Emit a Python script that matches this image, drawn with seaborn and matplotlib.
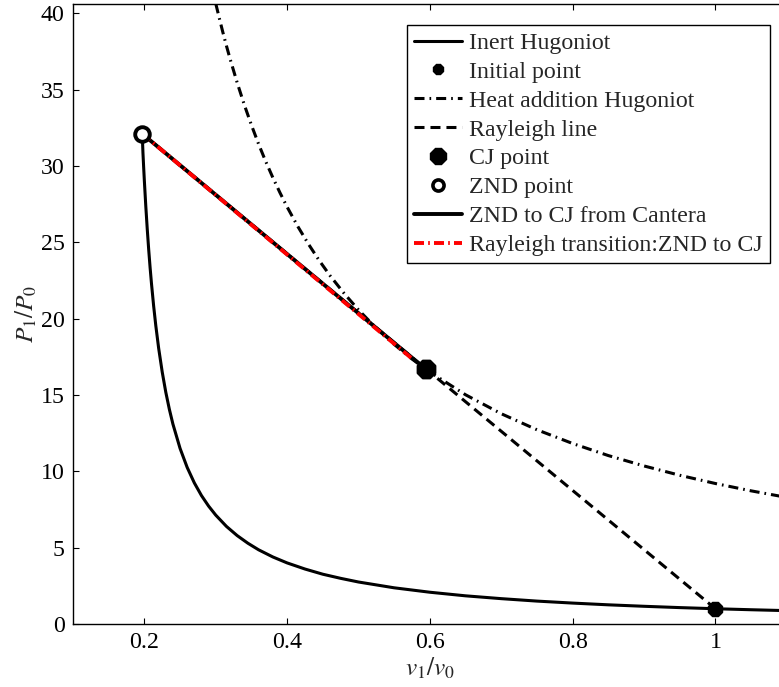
import matplotlib
matplotlib.use("Agg")
import matplotlib.pyplot as plt
from matplotlib.lines import Line2D
import seaborn as sns
import numpy as np
import pandas as pd

# ---------------- data ----------------
inert_v = [0.197, 0.198, 0.199, 0.200, 0.202, 0.204, 0.206, 0.208, 0.21, 0.213,
           0.216, 0.22, 0.225, 0.23, 0.235, 0.24, 0.25, 0.26, 0.27, 0.28, 0.29,
           0.30, 0.315, 0.33, 0.345, 0.36, 0.38, 0.40, 0.425, 0.45, 0.475, 0.50,
           0.55, 0.60, 0.65, 0.70, 0.75, 0.80, 0.85, 0.90, 0.95, 1.00, 1.05, 1.10]
inert_p = [32.1, 30.86, 29.9, 29.0, 27.35, 25.88, 24.55, 23.35, 22.27, 20.82,
           19.54, 18.06, 16.5, 15.18, 14.06, 13.09, 11.5, 10.25, 9.24, 8.41, 7.72,
           7.13, 6.39, 5.79, 5.29, 4.86, 4.39, 4.00, 3.60, 3.26, 2.99, 2.75,
           2.37, 2.08, 1.845, 1.66, 1.50, 1.37, 1.256, 1.16, 1.074, 1.00, 0.934, 0.875]

heat_v = [0.30, 0.305, 0.31, 0.315, 0.32, 0.33, 0.34, 0.35, 0.36, 0.37, 0.38, 0.39,
          0.40, 0.415, 0.43, 0.445, 0.46, 0.48, 0.50, 0.525, 0.55, 0.575, 0.60,
          0.65, 0.70, 0.75, 0.80, 0.85, 0.90, 0.95, 1.00, 1.05, 1.10]
heat_p = [40.63, 39.67, 38.74, 37.86, 37.02, 35.45, 34.0, 32.67, 31.43, 30.29, 29.23,
          28.24, 27.31, 26.03, 24.87, 23.8, 22.82, 21.64, 20.57, 19.37, 18.31, 17.35,
          16.50, 15.01, 13.77, 12.72, 11.82, 11.03, 10.35, 9.74, 9.20, 8.72, 8.29]

rayleigh_v = [0.197, 1.0]
rayleigh_p = [32.1, 1.0]

cantera_v = [0.197, 0.594]
cantera_p = [32.1, 16.7]

transition_v = [0.197, 0.577]
transition_p = [32.1, 17.3]

initial_v, initial_p = [1.0], [1.0]
cj_v, cj_p = [0.594], [16.7]
znd_v, znd_p = [0.197], [32.1]

legend_labels = ["Inert Hugoniot", "Initial point", "Heat addition Hugoniot",
                 "Rayleigh line", "CJ point", "ZND point",
                 "ZND to CJ from Cantera", "Rayleigh transition:ZND to CJ"]

x_ticks = [0.2, 0.4, 0.6, 0.8, 1.0]
x_tick_labels = ["0.2", "0.4", "0.6", "0.8", "1"]
y_ticks = [0, 5, 10, 15, 20, 25, 30, 35, 40]

# ---------------- style ----------------
sns.set_style("ticks")
plt.rcParams["font.family"] = ["Liberation Serif", "DejaVu Serif"]
plt.rcParams["mathtext.fontset"] = "stix"
plt.rcParams["lines.scale_dashes"] = False
plt.rcParams["axes.edgecolor"] = "black"
plt.rcParams["axes.linewidth"] = 1.0

FS = 17.2
dash = (0, (7.2, 4.3))
dashdot = (0, (7.2, 3.6, 1.2, 3.6))
red_dashdot = (0, (7.2, 3.0, 1.2, 3.0))

fig = plt.figure(figsize=(7.79, 6.87), dpi=100)
ax = fig.add_axes([73 / 779, 63 / 687, 713.75 / 779, 620 / 687])

lw = 2.2
sns.lineplot(x=inert_v, y=inert_p, sort=False, estimator=None, color="black",
             linewidth=lw, ax=ax, zorder=3)
sns.lineplot(x=heat_v, y=heat_p, sort=False, estimator=None, color="black",
             linewidth=lw, linestyle=dashdot, ax=ax, zorder=3)
sns.lineplot(x=rayleigh_v, y=rayleigh_p, sort=False, estimator=None, color="black",
             linewidth=lw, linestyle=dash, ax=ax, zorder=3)
sns.lineplot(x=cantera_v, y=cantera_p, sort=False, estimator=None, color="black",
             linewidth=2.8, ax=ax, zorder=4)
sns.lineplot(x=transition_v, y=transition_p, sort=False, estimator=None, color="red",
             linewidth=2.8, linestyle=red_dashdot, ax=ax, zorder=5)

sns.scatterplot(x=initial_v, y=initial_p, marker="8", s=120, color="black",
                edgecolor="black", linewidth=1, ax=ax, zorder=6)
sns.scatterplot(x=cj_v, y=cj_p, marker="8", s=190, color="black",
                edgecolor="black", linewidth=1.5, ax=ax, zorder=6)
sns.scatterplot(x=znd_v, y=znd_p, marker="o", s=110, facecolor="white",
                edgecolor="black", linewidth=2.8, ax=ax, zorder=7)

ax.set_xlim(0.1, 1.1)
ax.set_ylim(0, 40.6)
ax.set_xticks(x_ticks)
ax.set_xticklabels(x_tick_labels)
ax.set_yticks(y_ticks)
ax.tick_params(direction="in", length=4, width=0.8, labelsize=FS,
               top=True, right=True, pad=6, colors="black")
ax.set_xlabel(r"$v_1/v_0$", fontsize=FS + 1, labelpad=2)
ax.set_ylabel(r"$P_1/P_0$", fontsize=FS + 1, labelpad=1)
for s in ax.spines.values():
    s.set_linewidth(1.0)

handles = [
    Line2D([], [], color="black", lw=lw),
    Line2D([], [], color="black", lw=0, marker="8", ms=8),
    Line2D([], [], color="black", lw=lw, linestyle=dashdot),
    Line2D([], [], color="black", lw=lw, linestyle=dash),
    Line2D([], [], color="black", lw=0, marker="8", ms=12),
    Line2D([], [], color="black", lw=0, marker="o", ms=8, mfc="white", mew=2.6),
    Line2D([], [], color="black", lw=2.8),
    Line2D([], [], color="red", lw=2.8, linestyle=red_dashdot),
]
leg = ax.legend(handles, legend_labels, loc="upper right",
                bbox_to_anchor=(770 / 779, 1 - 25 / 687),
                bbox_transform=fig.transFigure, borderaxespad=0,
                frameon=True, fancybox=False, framealpha=1, edgecolor="black",
                fontsize=FS, handlelength=2.0, handletextpad=0.3,
                labelspacing=0.3, borderpad=0.3)
leg.get_frame().set_linewidth(1.0)

fig.savefig("out.png", dpi=100)
